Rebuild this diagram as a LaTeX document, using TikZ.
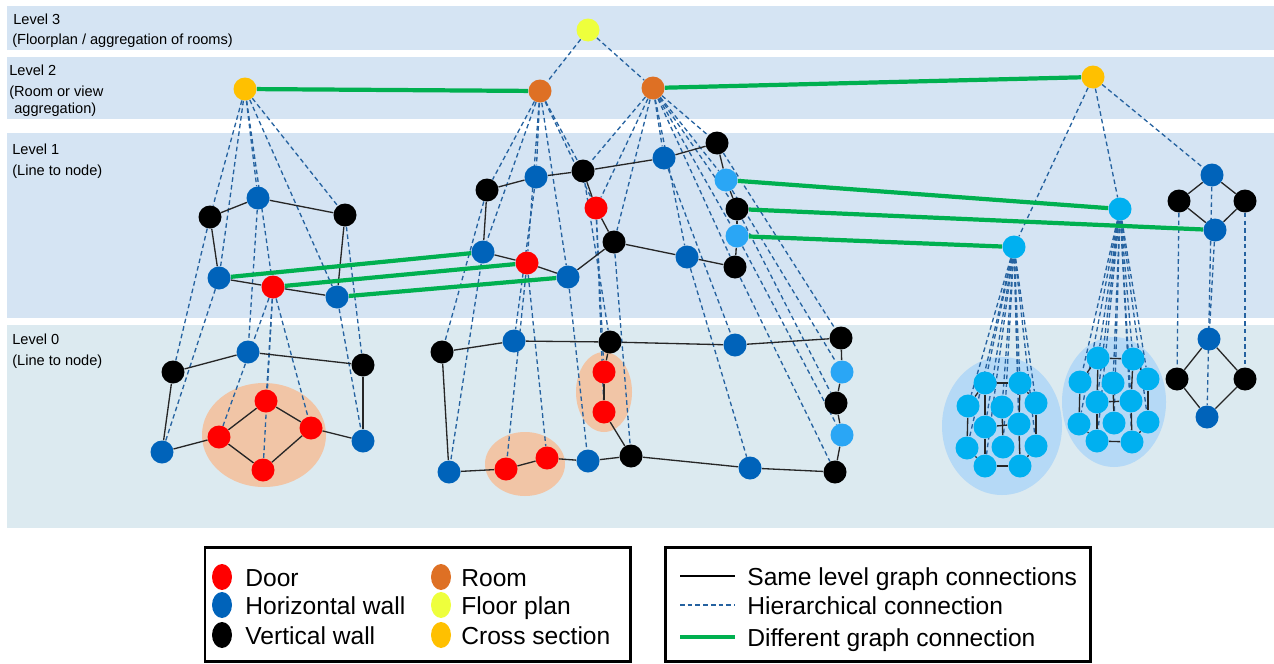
\documentclass[tikz,border=0pt]{standalone}
\usepackage{fontspec}
\setmainfont{Liberation Sans}
\usetikzlibrary{shapes.geometric}
\pgfdeclarelayer{bands}
\pgfdeclarelayer{links}
\pgfsetlayers{bands,links,main}
\definecolor{bandtop}{RGB}{213,228,243}
\definecolor{bandlow}{RGB}{220,234,240}
\definecolor{doorred}{RGB}{255,0,0}
\definecolor{hwallblue}{RGB}{0,99,186}
\definecolor{roomorange}{RGB}{222,112,36}
\definecolor{planyellow}{RGB}{238,255,60}
\definecolor{sectionamber}{RGB}{255,192,0}
\definecolor{skyblue}{RGB}{42,166,245}
\definecolor{cyanblue}{RGB}{0,176,240}
\definecolor{peach}{RGB}{241,197,166}
\definecolor{haloblue}{RGB}{181,217,246}
\definecolor{hiercol}{RGB}{37,98,160}
\definecolor{linkgreen}{RGB}{0,176,80}
\begin{document}
\begin{tikzpicture}[x=0.02cm,y=-0.02cm,
  nd/.style={circle,minimum size=0.46cm,inner sep=0pt,fill=#1},
  door/.style={nd=doorred},
  hwall/.style={nd=hwallblue},
  vwall/.style={nd=black},
  room/.style={nd=roomorange},
  plan/.style={nd=planyellow},
  xsec/.style={nd=sectionamber},
  skynd/.style={nd=skyblue},
  cyannd/.style={nd=cyanblue},
  hier/.style={draw=hiercol,line width=0.75pt,dash pattern=on 2.6pt off 1.8pt},
  same/.style={draw=black!85,line width=0.75pt},
  diffgraph/.style={draw=linkgreen,line width=2.4pt},
  lvl/.style={anchor=base west,inner sep=0pt,font=\fontsize{8.3}{10}\selectfont},
  legtxt/.style={anchor=base west,inner sep=0pt,font=\fontsize{14}{16}\selectfont},
  legdot/.style={ellipse,minimum width=0.4cm,minimum height=0.52cm,inner sep=0pt,fill=#1},
  legbox/.style={draw=black,line width=1.7pt}
]
\useasboundingbox (0,0) rectangle (1274,663);

% ---------- level bands and grouping halos ----------
\begin{pgfonlayer}{bands}
  \fill[bandtop] (7,6) rectangle (1274,50);
  \fill[bandtop] (7,57) rectangle (1274,119);
  \fill[bandtop] (7,133) rectangle (1274,318);
  \fill[bandlow] (7,325) rectangle (1274,528);
  \fill[peach] (264,435) ellipse [x radius=62, y radius=52];
  \fill[peach] (525,464) ellipse [x radius=40, y radius=32];
  \fill[peach] (604,392) ellipse [x radius=28, y radius=40];
  \fill[haloblue] (1002,426) ellipse [x radius=60, y radius=69];
  \fill[haloblue] (1114,402) ellipse [x radius=52, y radius=65];
\end{pgfonlayer}

% ---------- level labels ----------
\node[lvl] (t3a) at (13,24) {Level 3};
\node[lvl] (t3b) at (12,44) {(Floorplan / aggregation of rooms)};
\node[lvl] (t2a) at (9,75) {Level 2};
\node[lvl] (t2b) at (9,96) {(Room or view};
\node[lvl] (t2c) at (14,113) {aggregation)};
\node[lvl] (t1a) at (12,154) {Level 1};
\node[lvl] (t1b) at (12,175) {(Line to node)};
\node[lvl] (t0a) at (12,344) {Level 0};
\node[lvl] (t0b) at (12,365) {(Line to node)};

% ---------- level 3 and level 2 ----------
\node[plan] (fp) at (588,30) {};
\node[xsec] (csL) at (245,89) {};
\node[room] (rm1) at (540,91) {};
\node[room] (rm2) at (653,88) {};
\node[xsec] (csR) at (1093,77) {};

% ---------- level 1, left graph ----------
\node[vwall] (l1a) at (210,217) {};
\node[hwall] (l1b) at (258,198) {};
\node[vwall] (l1c) at (345,215) {};
\node[hwall] (l1d) at (219,278) {};
\node[door]  (l1e) at (273,287) {};
\node[hwall] (l1f) at (337,297) {};

% ---------- level 0, left graph ----------
\node[vwall] (l0a) at (173,372) {};
\node[hwall] (l0b) at (248,352) {};
\node[vwall] (l0c) at (363,365) {};
\node[hwall] (l0d) at (162,452) {};
\node[door]  (l0e) at (219,437) {};
\node[door]  (l0f) at (266,401) {};
\node[door]  (l0g) at (311,428) {};
\node[door]  (l0h) at (263,470) {};
\node[hwall] (l0i) at (363,441) {};

% ---------- level 1, middle graph ----------
\node[vwall] (m1a) at (487,190) {};
\node[hwall] (m1b) at (536,177) {};
\node[vwall] (m1c) at (583,171) {};
\node[door]  (m1d) at (596,208) {};
\node[vwall] (m1e) at (614,242) {};
\node[hwall] (m1f) at (664,158) {};
\node[vwall] (m1g) at (717,143) {};
\node[skynd] (m1h) at (726,180) {};
\node[vwall] (m1i) at (737,209) {};
\node[skynd] (m1j) at (737,236) {};
\node[vwall] (m1k) at (735,267) {};
\node[hwall] (m1l) at (687,257) {};
\node[hwall] (m1m) at (483,252) {};
\node[door]  (m1n) at (527,263) {};
\node[hwall] (m1o) at (568,277) {};

% ---------- level 0, middle graph ----------
\node[vwall] (m0A) at (442,352) {};
\node[hwall] (m0B) at (514,341) {};
\node[vwall] (m0C) at (610,342) {};
\node[hwall] (m0D) at (735,345) {};
\node[vwall] (m0E) at (841,338) {};
\node[skynd] (m0F) at (842,372) {};
\node[vwall] (m0G) at (836,403) {};
\node[skynd] (m0H) at (842,435) {};
\node[vwall] (m0I) at (835,472) {};
\node[hwall] (m0J) at (750,468) {};
\node[vwall] (m0K) at (631,456) {};
\node[hwall] (m0L) at (588,461) {};
\node[door]  (m0M) at (547,458) {};
\node[door]  (m0N) at (506,469) {};
\node[hwall] (m0O) at (449,472) {};
\node[door]  (m0P) at (604,372) {};
\node[door]  (m0Q) at (604,412) {};

% ---------- level 1, right graphs ----------
\node[cyannd] (r1p) at (1014,247) {};
\node[cyannd] (r1q) at (1120,209) {};
\node[hwall] (r1r) at (1212,175) {};
\node[vwall] (r1s) at (1179,201) {};
\node[vwall] (r1t) at (1245,201) {};
\node[hwall] (r1u) at (1215,230) {};

% ---------- level 0, right graphs ----------
\foreach \n/\px/\py in {1/985/383,2/1020/383,3/968/406,4/1002/407,5/1036/403,6/985/427,
                        7/1019/424,8/967/448,9/1003/447,10/1036/446,11/985/466,12/1020/466}
  \node[cyannd] (ca\n) at (\px,\py) {};
\foreach \n/\px/\py in {1/1098/358,2/1133/359,3/1080/382,4/1113/383,5/1148/379,6/1097/402,
                        7/1131/401,8/1079/424,9/1114/423,10/1148/422,11/1097/441,12/1132/442}
  \node[cyannd] (cb\n) at (\px,\py) {};
\node[hwall] (d0a) at (1209,339) {};
\node[vwall] (d0b) at (1177,379) {};
\node[vwall] (d0c) at (1245,379) {};
\node[hwall] (d0d) at (1207,417) {};

% ---------- connectors ----------
\begin{pgfonlayer}{links}
  % hierarchical links
  \draw[hier] (fp) -- (rm1);
  \draw[hier] (fp) -- (rm2);
  \foreach \t in {l1a,l1b,l1c,l1d,l1e,l1f} \draw[hier] (csL) -- (\t);
  \foreach \s/\t in {l1a/l0a,l1b/l0b,l1c/l0c,l1d/l0d,l1e/l0e,l1e/l0f,l1e/l0g,l1e/l0h,l1f/l0i}
    \draw[hier] (\s) -- (\t);
  \foreach \t in {m1a,m1b,m1c,m1d,m1m,m1n,m1o} \draw[hier] (rm1) -- (\t);
  \foreach \t in {m1c,m1d,m1e,m1f,m1g,m1h,m1i,m1j,m1k,m1l} \draw[hier] (rm2) -- (\t);
  \foreach \s/\t in {m1a/m0A,m1b/m0B,m1c/m0C,m1d/m0P,m1d/m0Q,m1e/m0K,m1f/m0D,m1g/m0E,
                     m1h/m0F,m1i/m0G,m1j/m0H,m1k/m0I,m1l/m0J,m1m/m0O,m1n/m0N,m1n/m0M,m1o/m0L}
    \draw[hier] (\s) -- (\t);
  \foreach \t in {r1p,r1q,r1r} \draw[hier] (csR) -- (\t);
  \foreach \n in {1,...,12} {
    \draw[hier] (r1p) -- (ca\n);
    \draw[hier] (r1q) -- (cb\n);
  }
  \draw[hier] (r1s) -- (d0b);
  \draw[hier] (r1t) -- (d0c);
  \draw[hier] (r1r) -- (d0d);
  \draw[hier] (r1u) -- (d0a);

  % same level graph edges
  \foreach \s/\t in {l1a/l1b,l1b/l1c,l1a/l1d,l1d/l1e,l1e/l1f,l1c/l1f,
                     l0a/l0b,l0b/l0c,l0a/l0d,l0d/l0e,l0e/l0f,l0f/l0g,l0e/l0h,l0h/l0g,l0g/l0i,l0c/l0i,
                     m1a/m1b,m1b/m1c,m1c/m1f,m1f/m1g,m1g/m1h,m1h/m1i,m1i/m1j,m1j/m1k,m1k/m1l,
                     m1l/m1e,m1e/m1d,m1d/m1c,m1a/m1m,m1m/m1n,m1n/m1o,m1o/m1e,
                     m0A/m0B,m0B/m0C,m0C/m0D,m0D/m0E,m0E/m0F,m0F/m0G,m0G/m0H,m0H/m0I,m0I/m0J,
                     m0J/m0K,m0K/m0L,m0L/m0M,m0M/m0N,m0N/m0O,m0O/m0A,m0C/m0P,m0P/m0Q,m0Q/m0K,
                     r1r/r1s,r1r/r1t,r1s/r1u,r1t/r1u,d0a/d0b,d0a/d0c,d0b/d0d,d0c/d0d}
    \draw[same] (\s) -- (\t);
  \foreach \s/\t in {1/2,1/3,2/5,3/8,5/10,8/11,10/12,11/12,1/6,6/11,2/7,7/12,4/9,6/7} {
    \draw[same] (ca\s) -- (ca\t);
    \draw[same] (cb\s) -- (cb\t);
  }

  % links between different graphs
  \foreach \s/\t in {csL/rm1,rm2/csR,l1d/m1m,l1e/m1n,l1f/m1o,m1h/r1q,m1i/r1u,m1j/r1p}
    \draw[diffgraph] (\s) -- (\t);
\end{pgfonlayer}

% ---------- legend ----------
\draw[legbox] (205,547) rectangle (630,661);
\draw[legbox] (665,547) rectangle (1090,661);

\node[legdot=doorred] (kdoor) at (222,577) {};
\node[legdot=hwallblue] (khw) at (222,605) {};
\node[legdot=black] (kvw) at (222,635) {};
\node[legdot=roomorange] (kroom) at (441,577) {};
\node[legdot=planyellow] (kplan) at (441,605) {};
\node[legdot=sectionamber] (ksec) at (441,635) {};
\node[legtxt] (ldoor) at (245,586) {Door};
\node[legtxt] (lhw) at (245,614) {Horizontal wall};
\node[legtxt] (lvw) at (245,644) {Vertical wall};
\node[legtxt] (lroom) at (461,586) {Room};
\node[legtxt] (lplan) at (461,614) {Floor plan};
\node[legtxt] (lsec) at (461,644) {Cross section};

\coordinate (ks1) at (680,576); \coordinate (ks2) at (735,576);
\coordinate (kh1) at (680,605); \coordinate (kh2) at (735,605);
\coordinate (kg1) at (680,637); \coordinate (kg2) at (735,637);
\draw[draw=black,line width=0.6pt] (ks1) -- (ks2);
\draw[hier,line width=0.6pt] (kh1) -- (kh2);
\draw[diffgraph] (kg1) -- (kg2);
\node[legtxt] (lsame) at (747,585) {Same level graph connections};
\node[legtxt] (lhier) at (747,614) {Hierarchical connection};
\node[legtxt] (ldiff) at (747,646) {Different graph connection};
\end{tikzpicture}
\end{document}
